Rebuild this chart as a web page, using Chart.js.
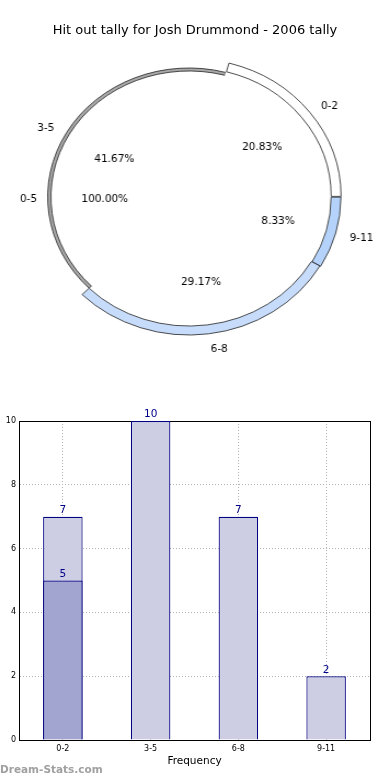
<!DOCTYPE html>
<html>
<head>
<meta charset="utf-8">
<script src="https://cdn.jsdelivr.net/npm/chart.js@4.4.1/dist/chart.umd.min.js"></script>
<style>
  html, body { margin: 0; padding: 0; background: #fff; overflow: hidden; }
  #wrap { position: relative; width: 390px; height: 780px; }
  #title { position: absolute; left: 0; top: 22px; width: 390px; text-align: center; font: 13px/16px "DejaVu Sans", sans-serif; color: #000; }
  #pieCanvas { position: absolute; left: 0; top: 0; transform-origin: 0 0; }
  #barCanvas { position: absolute; left: -10px; top: 395px; }
  #mark { position: absolute; left: 0; top: 763px; font: bold 10.5px "DejaVu Sans", sans-serif; color: #a0a0a0; }
</style>
</head>
<body>
<div id="wrap">
  <canvas id="pieCanvas" width="356" height="394"></canvas>
  <div id="title"></div>
  <canvas id="barCanvas" width="400" height="385"></canvas>
  <div id="mark">Dream-Stats.com</div>
</div>
<script>
const chartTitle = 'Hit out tally for Josh Drummond - 2006 tally';

// pie data
const categories = ['0-2', '3-5', '6-8', '9-11'];
const pieValues = [5, 10, 7, 2];
const innerLabels = ['0-5'];
const innerValues = [24];

// bar data
const barTotals = [7, 10, 7, 2];
const barFirst = [5, null, null, null];
const yMax = 10;
const yStep = 2;

const FONT = '"DejaVu Sans", sans-serif';
document.getElementById('title').textContent = chartTitle;

// the original pie is a bit wider than tall, so stretch the canvas sideways
const pieCanvas = document.getElementById('pieCanvas');
const stretch = 390 / pieCanvas.width;
pieCanvas.style.transform = 'scaleX(' + stretch + ')';

// colours per category (same order as categories)
const ringColors = ['#ffffff', 'rgba(0,0,0,0)', '#c6dcfa', '#b5d3fa'];
const ringBorders = [0.8, 0, 0.8, 0.8];
const ringOffsets = [4, 0, 0, 2];

// Chart.js goes clockwise, the original goes counter clockwise -> reverse
const rev = a => a.slice().reverse();

const pieLabelPlugin = {
    id: 'pieLabels',
    afterDraw(chart) {
        const ctx = chart.ctx;
        ctx.save();
        ctx.fillStyle = '#000';
        ctx.font = '10.5px ' + FONT;
        ctx.textBaseline = 'middle';
        const put = (txt, x, y, align) => {
            ctx.save();
            ctx.translate(x, y + 2);
            ctx.scale(1 / stretch, 1);   // undo the sideways stretch for text
            ctx.textAlign = align;
            ctx.fillText(txt, 0, 0);
            ctx.restore();
        };
        const drawSet = (arcs, names, values) => {
            const total = values.reduce((a, b) => a + b, 0);
            arcs.forEach((arc, i) => {
                const R = arc.outerRadius;
                const mid = (arc.startAngle + arc.endAngle) / 2;
                const c = Math.cos(mid), s = Math.sin(mid);
                put(names[i], arc.x + c * R * 1.1, arc.y + s * R * 1.1, c > 0 ? 'left' : 'right');
                put((values[i] / total * 100).toFixed(2) + '%', arc.x + c * R * 0.61, arc.y + s * R * 0.61, 'center');
            });
        };
        // the 3-5 slice lives on the thin ring, take its arc from there
        const outer = chart.getDatasetMeta(0).data;
        const thin = chart.getDatasetMeta(1).data;
        const borders = rev(ringBorders);
        const arcs = outer.map((a, i) => borders[i] === 0 ? thin[i] : a);
        drawSet(arcs, rev(categories), rev(pieValues));
        drawSet(chart.getDatasetMeta(2).data, innerLabels, innerValues);
        ctx.restore();
    }
};

new Chart(pieCanvas, {
    type: 'pie',
    data: {
        labels: rev(categories),
        datasets: [
            {
                data: rev(pieValues),
                backgroundColor: rev(ringColors),
                borderColor: '#222',
                borderWidth: rev(ringBorders),
                offset: rev(ringOffsets),
                weight: 9
            },
            {
                // thin ring, only 3-5 shows
                data: rev(pieValues),
                backgroundColor: rev(categories.map(c => c === '3-5' ? '#a8a8a8' : '#ffffff')),
                borderColor: '#222',
                borderWidth: rev(categories.map(c => c === '3-5' ? 0.8 : 0)),
                weight: 3
            },
            {
                data: innerValues,
                backgroundColor: '#ffffff',
                borderWidth: 0,
                weight: 126
            }
        ]
    },
    options: {
        responsive: false,
        animation: false,
        events: [],
        rotation: 90,
        radius: 138,
        layout: { padding: { left: 0, right: 11, top: 0, bottom: 0 } },
        plugins: {
            legend: { display: false },
            tooltip: { enabled: false }
        }
    },
    plugins: [pieLabelPlugin]
});

const barLabelPlugin = {
    id: 'barLabels',
    afterDatasetsDraw(chart) {
        const ctx = chart.ctx;
        ctx.save();
        ctx.fillStyle = '#00008b';
        ctx.font = '10.5px ' + FONT;
        ctx.textAlign = 'center';
        ctx.textBaseline = 'bottom';
        chart.data.datasets.forEach((ds, di) => {
            chart.getDatasetMeta(di).data.forEach((bar, i) => {
                if (ds.data[i] == null) return;
                ctx.fillText(String(ds.data[i]), bar.x, bar.y - 1);
            });
        });
        ctx.restore();
    }
};

const gridDots = { display: true, color: '#000', width: 1, dash: [1, 2] };

new Chart(document.getElementById('barCanvas'), {
    type: 'bar',
    data: {
        labels: categories,
        datasets: [
            {
                data: barFirst,
                backgroundColor: '#a3a5d1',
                borderColor: '#000080',
                borderWidth: 1.2,
                grouped: false,
                barPercentage: 0.45,
                categoryPercentage: 1
            },
            {
                data: barTotals,
                backgroundColor: '#cdcde4',
                borderColor: '#000080',
                borderWidth: 1.2,
                grouped: false,
                barPercentage: 0.45,
                categoryPercentage: 1
            }
        ]
    },
    options: {
        responsive: false,
        animation: false,
        events: [],
        layout: { padding: { left: 0, right: 20, top: 26, bottom: 0 } },
        plugins: { legend: { display: false }, tooltip: { enabled: false } },
        scales: {
            x: {
                grid: { display: true, offset: false, color: '#b4b4b4', drawTicks: false },
                border: gridDots,
                ticks: { color: '#000', font: { family: FONT, size: 8 }, padding: 4 },
                title: { display: true, text: 'Frequency', color: '#000', font: { family: FONT, size: 10.5 }, padding: { top: 2, bottom: 12 } },
                afterFit: s => { s.height = 40; }
            },
            y: {
                min: 0,
                max: yMax,
                grid: { display: true, color: '#b4b4b4', drawTicks: false },
                border: gridDots,
                ticks: { stepSize: yStep, color: '#000', font: { family: FONT, size: 8 }, padding: 3 },
                title: { display: true, text: 'Total Hit Outs', color: '#000', font: { family: FONT, size: 10 }, padding: 0 },
                afterFit: s => { s.width = 29; }
            },
            xTop: {
                type: 'category',
                position: 'top',
                labels: categories,
                grid: { display: false },
                ticks: { display: false },
                border: { display: true, color: '#000', width: 1 },
                afterFit: s => { s.height = 0; }
            },
            yRight: {
                type: 'linear',
                position: 'right',
                grid: { display: false },
                ticks: { display: false },
                border: { display: true, color: '#000', width: 1 },
                afterFit: s => { s.width = 0; }
            }
        }
    },
    plugins: [barLabelPlugin]
});
</script>
</body>
</html>
